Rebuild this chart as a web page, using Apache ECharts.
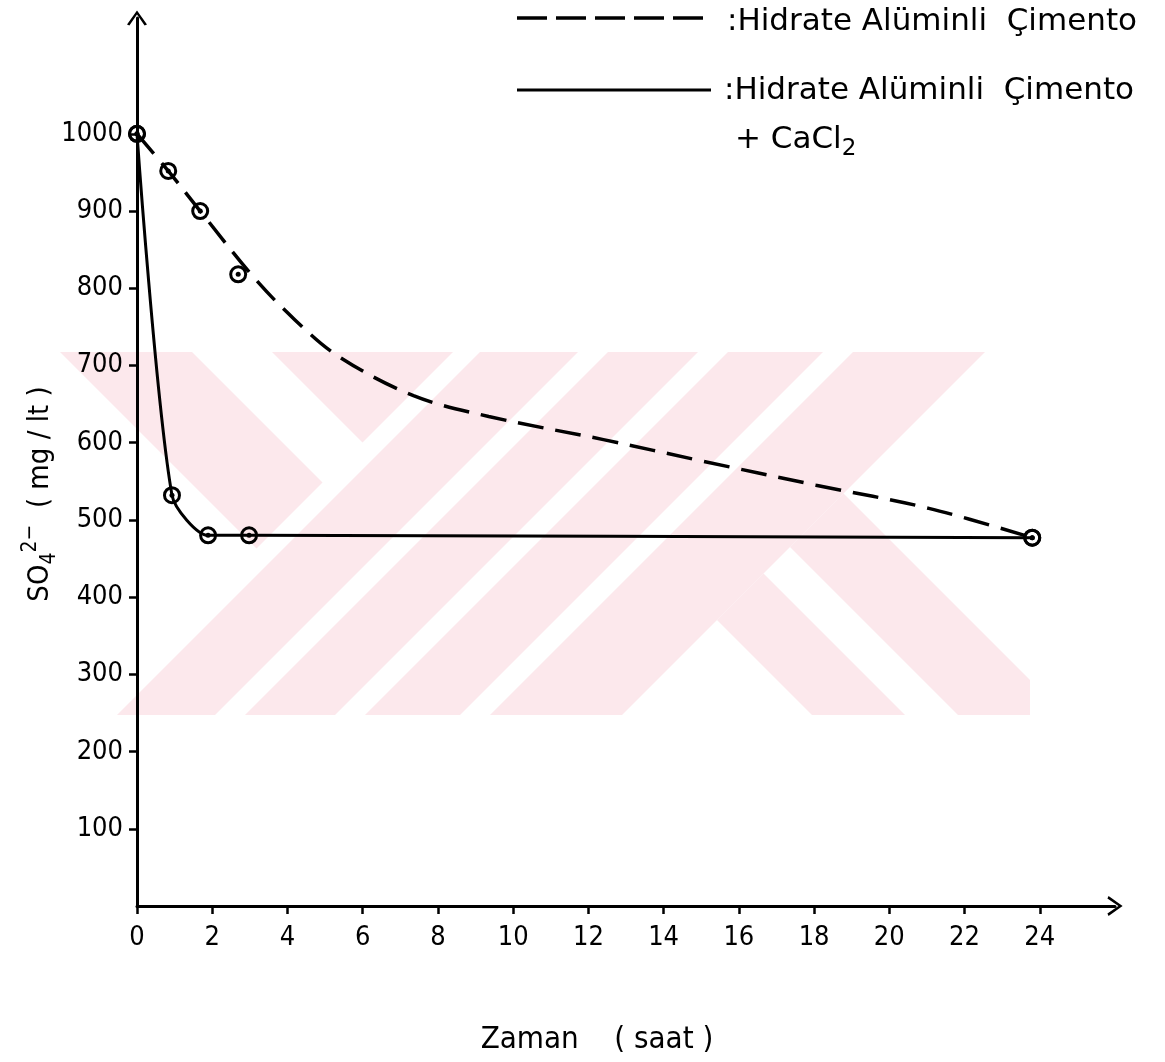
<!DOCTYPE html>
<html>
<head>
<meta charset="utf-8">
<script src="https://cdn.jsdelivr.net/npm/echarts@6/dist/echarts.min.js"></script>
<style>
html,body{margin:0;padding:0;background:#ffffff;}
#chart{width:1165px;height:1062px;}
</style>
</head>
<body>
<div id="chart"></div>
<script>
// ---------------- data ----------------
// Hidrate Alüminli Çimento (dashed curve, hand-drawn trace)
const dashedCurveHours  = [0, 0.83, 1.68, 3.09, 4.2, 5.35, 7.35, 9.35, 12.4, 15.05, 18.05, 21.05, 23.8];
const dashedCurveValues = [1000, 952, 900, 815, 759, 712, 661, 634, 604, 576, 545, 515, 477];
// measured points (circles)
const dashedPointHours  = [0, 0.83, 1.68, 2.69, 23.8];
const dashedPointValues = [1000, 952, 900, 818, 477];

// Hidrate Alüminli Çimento + CaCl2 (solid curve)
const solidCurveHours  = [0, 0.93, 1.89, 2.98, 23.8];
const solidCurveValues = [1000, 532, 480, 480, 477];
const solidPointHours  = [0, 0.93, 1.89, 2.98, 23.8];
const solidPointValues = [1000, 532, 480, 480, 477];

// axis tick labels
const xTickValues = [0, 2, 4, 6, 8, 10, 12, 14, 16, 18, 20, 22, 24];
const yTickValues = [100, 200, 300, 400, 500, 600, 700, 800, 900, 1000];

// texts
const legendDashedText = ':Hidrate Alüminli  Çimento';
const legendSolidText = ':Hidrate Alüminli  Çimento';
const xAxisTitle = 'Zaman    ( saat )';

// ---------------- helpers ----------------
const zip = (a, b) => a.map((v, i) => [v, b[i]]);

// clip a polygon by half-plane a*x + b*y <= c
function clipHalf(poly, a, b, c) {
  const out = [];
  for (let i = 0; i < poly.length; i++) {
    const p = poly[i], q = poly[(i + 1) % poly.length];
    const fp = a * p[0] + b * p[1] - c, fq = a * q[0] + b * q[1] - c;
    if (fp <= 0) out.push(p);
    if ((fp < 0 && fq > 0) || (fp > 0 && fq < 0)) {
      const t = fp / (fp - fq);
      out.push([p[0] + t * (q[0] - p[0]), p[1] + t * (q[1] - p[1])]);
    }
  }
  return out;
}
// background watermark decoration: pink cells = (x+y band) x (x-y band), clipped to a box
const wmBox = [[60, 352], [1030, 352], [1030, 715], [60, 715]];
const BIG = 5000;
const wmCells = [
  [[-BIG, 805], [-292, -160]],
  [[-BIG, 805], [-80, BIG]],
  [[832, 930], [-BIG, BIG]],
  [[960, 1050], [-BIG, BIG]],
  [[1080, 1175], [-BIG, BIG]],
  [[1205, 1337], [-BIG, BIG]],
  [[1337, BIG], [97, 190]],
  [[1337, BIG], [243, 350]]
];
const wmShapes = [];
wmCells.forEach(([[s1, s2], [d1, d2]]) => {
  let p = clipHalf(wmBox, 1, 1, s2);
  p = clipHalf(p, -1, -1, -s1);
  p = clipHalf(p, 1, -1, d2);
  p = clipHalf(p, -1, 1, -d1);
  if (p.length > 2) wmShapes.push(p);
});

const labelFont = '"DejaVu Sans Condensed", sans-serif';
const arrowPath = 'path://M0,0 L10,14 L7.6,15.2 L0,4.2 L-7.6,15.2 L-10,14 Z';

const chart = echarts.init(document.getElementById('chart'), null, { renderer: 'canvas' });

const graphics = [];
wmShapes.forEach(pts => graphics.push({
  type: 'polygon', z: -10, silent: true,
  shape: { points: pts },
  style: { fill: '#fce8ec' }
}));
// legend
graphics.push(
  { type: 'line', shape: { x1: 517, y1: 18, x2: 711, y2: 18 },
    style: { stroke: '#000', lineWidth: 3.5, lineDash: [30, 9] } },
  { type: 'text', x: 727, y: 22,
    style: { text: legendDashedText, font: '31px "DejaVu Sans"', fill: '#000', textVerticalAlign: 'middle' } },
  { type: 'line', shape: { x1: 517, y1: 90, x2: 711, y2: 90 },
    style: { stroke: '#000', lineWidth: 3 } },
  { type: 'text', x: 724, y: 91,
    style: { text: legendSolidText, font: '31px "DejaVu Sans"', fill: '#000', textVerticalAlign: 'middle' } },
  { type: 'text', x: 735, y: 140,
    style: {
      text: '{m|+ CaCl}{s|2}',
      textVerticalAlign: 'middle',
      rich: {
        m: { fontSize: 31, fontFamily: 'DejaVu Sans', fill: '#000', lineHeight: 42, verticalAlign: 'middle' },
        s: { fontSize: 23, fontFamily: 'DejaVu Sans', fill: '#000', lineHeight: 42, verticalAlign: 'bottom' }
      }
    } },
  // y axis title
  { type: 'text', x: 40, y: 494, rotation: Math.PI / 2,
    style: {
      text: '{m|SO}{s|4}{p|2−}{m|  ( mg / lt )}',
      textAlign: 'center', textVerticalAlign: 'middle',
      rich: {
        m: { fontSize: 29, fontFamily: 'DejaVu Sans Condensed', fill: '#000', lineHeight: 40, verticalAlign: 'middle' },
        s: { fontSize: 21, fontFamily: 'DejaVu Sans Condensed', fill: '#000', lineHeight: 40, verticalAlign: 'bottom' },
        p: { fontSize: 21, fontFamily: 'DejaVu Sans Condensed', fill: '#000', lineHeight: 40, verticalAlign: 'top' }
      }
    } },
  // x axis title
  { type: 'text', x: 597, y: 1040,
    style: { text: xAxisTitle, font: '31px "DejaVu Sans Condensed"', fill: '#000', textAlign: 'center', textVerticalAlign: 'middle' } }
);

const option = {
  animation: false,
  backgroundColor: '#ffffff',
  grid: { left: 137, right: 50, top: 18, bottom: 156, containLabel: false, outerBoundsMode: 'none' },
  xAxis: {
    type: 'value', min: 0, max: 26, interval: 2,
    axisLine: { show: true, onZero: false, symbol: ['none', arrowPath], symbolSize: [20, 16],
      lineStyle: { color: '#000', width: 3 } },
    axisTick: { show: true, length: 8, customValues: xTickValues, lineStyle: { color: '#000', width: 2.5 } },
    axisLabel: { customValues: xTickValues, margin: 18, color: '#000', fontSize: 27, fontFamily: labelFont,
      formatter: v => (v <= 24 ? String(v) : '') },
    splitLine: { show: false }
  },
  yAxis: {
    type: 'value', min: 0, max: 1150, interval: 100,
    axisLine: { show: true, onZero: false, symbol: ['none', arrowPath], symbolSize: [20, 16],
      lineStyle: { color: '#000', width: 3 } },
    axisTick: { show: true, length: 8, customValues: yTickValues, lineStyle: { color: '#000', width: 2.5 } },
    axisLabel: { customValues: yTickValues, margin: 14, color: '#000', fontSize: 27, fontFamily: labelFont,
      formatter: v => (v >= 100 && v <= 1000 ? String(v) : '') },
    splitLine: { show: false }
  },
  graphic: { elements: graphics },
  series: [
    { name: 'Hidrate Alüminli Çimento', type: 'line', data: zip(dashedCurveHours, dashedCurveValues),
      showSymbol: false, smooth: 0.35, z: 3,
      lineStyle: { color: '#000', width: 3.5, type: [26, 12] } },
    { name: 'Hidrate Alüminli Çimento + CaCl2', type: 'line', data: zip(solidCurveHours, solidCurveValues),
      showSymbol: false, smooth: 0.25, z: 3,
      lineStyle: { color: '#000', width: 3 } },
    { type: 'scatter', data: zip(dashedPointHours, dashedPointValues).concat(zip(solidPointHours, solidPointValues)),
      symbol: 'circle', symbolSize: 15, z: 4,
      itemStyle: { color: 'rgba(255,255,255,0)', borderColor: '#000', borderWidth: 3, opacity: 1 } },
    { type: 'scatter', data: zip(dashedPointHours, dashedPointValues).concat(zip(solidPointHours, solidPointValues)),
      symbol: 'circle', symbolSize: 5, z: 5, itemStyle: { color: '#000', opacity: 1 } }
  ]
};
chart.setOption(option);
</script>
</body>
</html>
